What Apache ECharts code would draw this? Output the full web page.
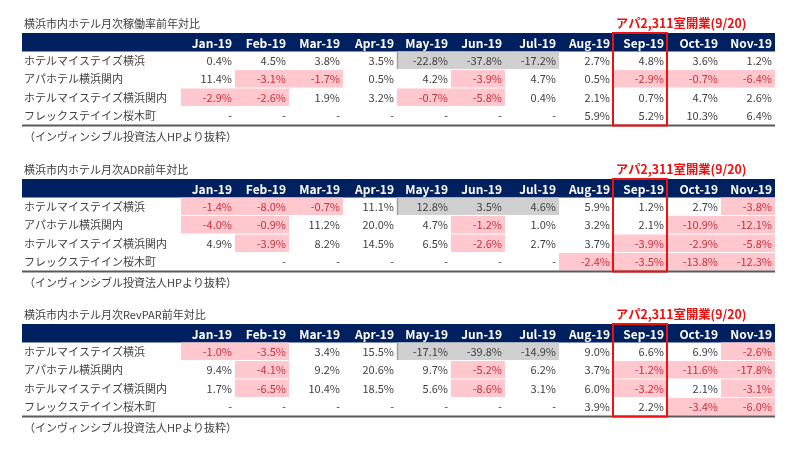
<!DOCTYPE html>
<html><head><meta charset="utf-8">
<script src="https://cdn.jsdelivr.net/npm/echarts@6/dist/echarts.min.js"></script>
<style>html,body{margin:0;padding:0;background:#fff}#c{width:800px;height:450px}</style>
</head><body><div id="c"></div>
<script>
const months = ['Jan-19','Feb-19','Mar-19','Apr-19','May-19','Jun-19','Jul-19','Aug-19','Sep-19','Oct-19','Nov-19'];
const hotels = ['ホテルマイステイズ横浜','アパホテル横浜関内','ホテルマイステイズ横浜関内','フレックステイイン桜木町'];
const tableTitles = ['横浜市内ホテル月次稼働率前年対比','横浜市内ホテル月次ADR前年対比','横浜市内ホテル月次RevPAR前年対比'];
// null = "-", '' = empty cell
const occupancyYoY = [
  [0.4, 4.5, 3.8, 3.5, -22.8, -37.8, -17.2, 2.7, 4.8, 3.6, 1.2],
  [11.4, -3.1, -1.7, 0.5, 4.2, -3.9, 4.7, 0.5, -2.9, -0.7, -6.4],
  [-2.9, -2.6, 1.9, 3.2, -0.7, -5.8, 0.4, 2.1, 0.7, 4.7, 2.6],
  [null, null, null, null, null, null, null, 5.9, 5.2, 10.3, 6.4]
];
const adrYoY = [
  [-1.4, -8.0, -0.7, 11.1, 12.8, 3.5, 4.6, 5.9, 1.2, 2.7, -3.8],
  [-4.0, -0.9, 11.2, 20.0, 4.7, -1.2, 1.0, 3.2, 2.1, -10.9, -12.1],
  [4.9, -3.9, 8.2, 14.5, 6.5, -2.6, 2.7, 3.7, -3.9, -2.9, -5.8],
  ['', null, null, null, null, null, null, -2.4, -3.5, -13.8, -12.3]
];
const revparYoY = [
  [-1.0, -3.5, 3.4, 15.5, -17.1, -39.8, -14.9, 9.0, 6.6, 6.9, -2.6],
  [9.4, -4.1, 9.2, 20.6, 9.7, -5.2, 6.2, 3.7, -1.2, -11.6, -17.8],
  [1.7, -6.5, 10.4, 18.5, 5.6, -8.6, 3.1, 6.0, -3.2, 2.1, -3.1],
  [null, null, null, null, null, null, null, 3.9, 2.2, -3.4, -6.0]
];
const sourceNote = '（インヴィンシブル投資法人HPより抜粋）';
const openingNote = 'アパ2,311室開業(9/20)';
const openingMonth = 'Sep-19';
const shadedHotel = 'ホテルマイステイズ横浜';
const shadedMonths = ['May-19','Jun-19','Jul-19'];

const tables = [occupancyYoY, adrYoY, revparYoY];

const FONT = '"Noto Sans CJK JP", "Noto Sans", sans-serif';
const LABEL_COLS = 2.944;
const ROW_H = 18.5;
const gridTops = [14.5, 160.5, 305.5];
const NAVY = '#002060', PINK = '#ffc7ce', PINK_TXT = '#c8303c', GRAY = '#d0d0d0', TXT = '#404040';

function fmt(v) {
  if (v === '') return '';
  if (v === null) return '-';
  return v.toFixed(1) + '%';
}

function buildItems(ti) {
  const items = [];
  items.push({kind: 'title', c: -LABEL_COLS, r: -0.5, text: tableTitles[ti]});
  items.push({kind: 'headerBar', c: -LABEL_COLS, r: 0});
  months.forEach((m, i) => items.push({kind: 'header', c: i, r: 0, text: m}));
  hotels.forEach((h, j) => {
    items.push({kind: 'rowLabel', c: -LABEL_COLS, r: j + 1, text: h});
    tables[ti][j].forEach((v, i) => {
      let fill = null, color = TXT;
      const shaded = h === shadedHotel && shadedMonths.includes(months[i]);
      if (shaded) fill = GRAY;
      else if (typeof v === 'number' && v < 0) { fill = PINK; color = PINK_TXT; }
      const edge = shaded && !(i > 0 && shadedMonths.includes(months[i - 1]));
      items.push({kind: 'cell', c: i, r: j + 1, text: fmt(v), fill, color, edge});
    });
  });
  items.push({kind: 'rule', c: -LABEL_COLS, r: hotels.length + 1});
  items.push({kind: 'note', c: -LABEL_COLS, r: hotels.length + 1.6, text: sourceNote});
  const oi = months.indexOf(openingMonth);
  items.push({kind: 'box', c: oi, r: 0});
  items.push({kind: 'boxLabel', c: oi, r: -0.5, text: openingNote});
  return items;
}

const allItems = tables.map((t, ti) => buildItems(ti));

function makeRender(ti) {
  return function (params, api) {
    const it = allItems[ti][params.dataIndex];
    const nCols = months.length;
    const txt = (x, y, text, align, color, size, weight) => ({
      type: 'text',
      style: {x, y, text, align, verticalAlign: 'middle', fill: color,
              font: (weight || 'normal') + ' ' + size + 'px ' + FONT}
    });
    if (it.kind === 'title' || it.kind === 'note') {
      const p = api.coord([it.c, it.r]);
      return txt(p[0] + 2, p[1], it.text, 'left', TXT, 11);
    }
    if (it.kind === 'rowLabel') {
      const p = api.coord([it.c, it.r + 0.5]);
      return txt(p[0] + 2, p[1], it.text, 'left', TXT, 11);
    }
    if (it.kind === 'headerBar') {
      const a = api.coord([it.c, 0]), b = api.coord([nCols, 1]);
      return {type: 'rect', shape: {x: a[0], y: a[1], width: b[0] - a[0], height: b[1] - a[1]},
              style: {fill: NAVY}};
    }
    if (it.kind === 'header') {
      const p = api.coord([it.c + 1, it.r + 0.5]);
      return txt(p[0] - 3, p[1] + 1, it.text, 'right', '#ffffff', 12, 'bold');
    }
    if (it.kind === 'cell') {
      const a = api.coord([it.c, it.r]), b = api.coord([it.c + 1, it.r + 1]);
      const children = [];
      if (it.fill) {
        children.push({type: 'rect', shape: {x: a[0], y: a[1], width: b[0] - a[0], height: b[1] - a[1] - 1},
                       style: {fill: it.fill}});
      }
      if (it.edge) {
        children.push({type: 'line', shape: {x1: a[0] + 0.5, y1: a[1], x2: a[0] + 0.5, y2: b[1] - 1},
                       style: {stroke: '#a0a0a0', lineWidth: 1.5}});
      }
      children.push(txt(b[0] - 3, (a[1] + b[1]) / 2, it.text, 'right', it.color, 11));
      return {type: 'group', children};
    }
    if (it.kind === 'rule') {
      const a = api.coord([it.c, it.r]), b = api.coord([nCols, it.r]);
      return {type: 'line', shape: {x1: a[0], y1: a[1], x2: b[0], y2: b[1]},
              style: {stroke: '#5a5a5a', lineWidth: 2}};
    }
    if (it.kind === 'box') {
      const a = api.coord([it.c, 0]), b = api.coord([it.c + 1, hotels.length + 1]);
      return {type: 'rect', shape: {x: a[0], y: a[1], width: b[0] - a[0], height: b[1] - a[1]},
              style: {fill: null, stroke: '#f01010', lineWidth: 2}};
    }
    if (it.kind === 'boxLabel') {
      const p = api.coord([it.c, it.r]);
      return txt(p[0] + 3, p[1], it.text, 'left', '#f01010', 12.3, 'bold');
    }
    return null;
  };
}

const chart = echarts.init(document.getElementById('c'), null, {renderer: 'canvas'});
chart.setOption({
  animation: false,
  backgroundColor: '#ffffff',
  grid: gridTops.map(t => ({left: 22, right: 25, top: t, height: ROW_H * 7})),
  xAxis: gridTops.map((t, i) => ({type: 'value', gridIndex: i, min: -LABEL_COLS, max: months.length, show: false})),
  yAxis: gridTops.map((t, i) => ({type: 'value', gridIndex: i, min: -1, max: 6, inverse: true, show: false})),
  series: gridTops.map((t, i) => ({
    type: 'custom',
    xAxisIndex: i, yAxisIndex: i,
    renderItem: makeRender(i),
    data: allItems[i].map(it => [it.c, it.r]),
    clip: false,
    silent: true
  }))
});
</script></body></html>
